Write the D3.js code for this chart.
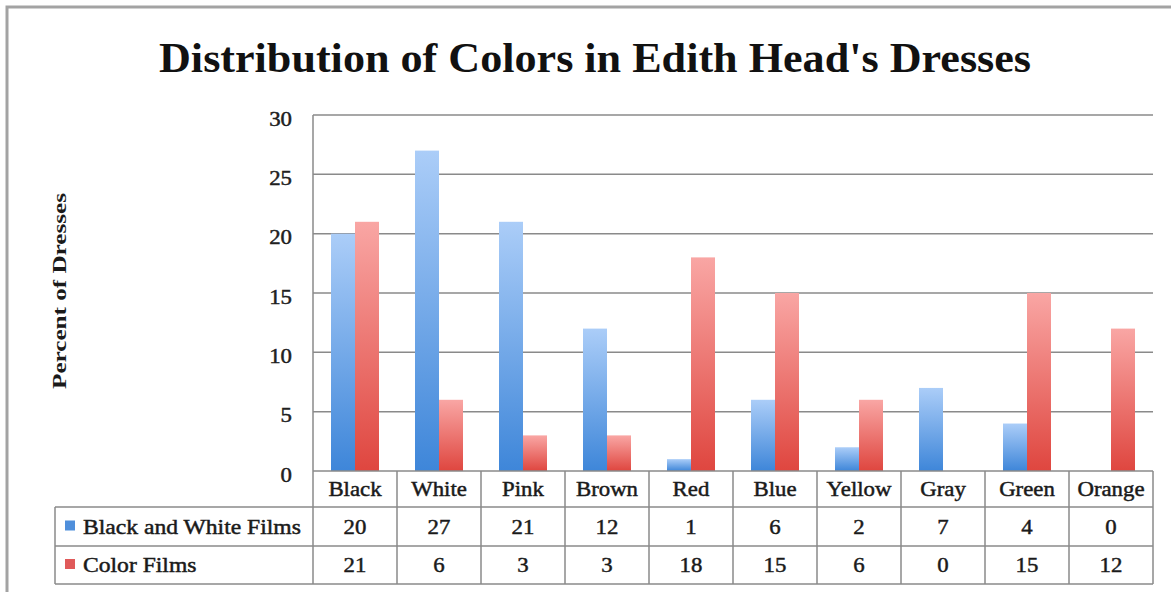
<!DOCTYPE html>
<html>
<head>
<meta charset="utf-8">
<script src="https://cdn.jsdelivr.net/npm/d3@7"></script>
<style>
  html, body { margin: 0; padding: 0; background: #fff; }
  svg { display: block; }
  text { font-family: "Liberation Serif", "DejaVu Serif", serif; fill: #1a1a1a; }
  .reg { stroke: #1a1a1a; stroke-width: 0.45px; }
</style>
</head>
<body>
<svg id="chart" width="1171" height="592"></svg>
<script>
// Percent of dresses by colour, split by film type
const categories = ["Black", "White", "Pink", "Brown", "Red", "Blue", "Yellow", "Gray", "Green", "Orange"];
const seriesNames = ["Black and White Films", "Color Films"];
const bwValues = [20, 27, 21, 12, 1, 6, 2, 7, 4, 0];
const colorValues = [21, 6, 3, 3, 18, 15, 6, 0, 15, 12];
const yTicks = [0, 5, 10, 15, 20, 25, 30];
const titleText = "Distribution of Colors in Edith Head's Dresses";
const yTitle = "Percent of Dresses";

const series = [
  { name: seriesNames[0], values: bwValues, grad: "gBlue", swatch: "#4f8fdb" },
  { name: seriesNames[1], values: colorValues, grad: "gRed", swatch: "#e05a5a" }
];

const svg = d3.select("#chart");
const defs = svg.append("defs");

function vGrad(id, top, bottom) {
  const g = defs.append("linearGradient").attr("id", id)
    .attr("x1", 0).attr("y1", 0).attr("x2", 0).attr("y2", 1);
  g.append("stop").attr("offset", "0%").attr("stop-color", top);
  g.append("stop").attr("offset", "100%").attr("stop-color", bottom);
}
vGrad("gBlue", "#abcdf8", "#3e86d9");
vGrad("gRed", "#f9a6a4", "#df463f");

// outer frame
svg.append("path")
  .attr("d", "M7,600 L7,7 L1180,7")
  .attr("fill", "none").attr("stroke", "#a3a3a3").attr("stroke-width", 3);

// layout
const plotLeft = 313, plotRight = 1153, plotTop = 115, plotBottom = 471;
const rowTops = [471, 507, 546, 584];
const legendLeft = 55;
const widen = 1.14;       // body text is set a little wider than the serif's natural width
const widenLegend = 1.18; // legend labels in the table run slightly wider still

const x = d3.scaleBand().domain(categories).range([plotLeft, plotRight]).padding(0);
const xs = d3.scaleBand().domain(seriesNames).range([0, x.bandwidth()]).paddingInner(0).paddingOuter(0.75);
const y = d3.scaleLinear().domain([0, 30]).range([plotBottom, plotTop]);

// title
svg.append("text")
  .attr("x", 595).attr("y", 72)
  .attr("text-anchor", "middle")
  .attr("font-size", 43).attr("font-weight", "bold")
  .attr("textLength", 872).attr("lengthAdjust", "spacingAndGlyphs")
  .style("fill", "#111")
  .text(titleText);

// gridlines
svg.append("g").selectAll("line")
  .data(yTicks.filter(t => t > 0))
  .join("line")
  .attr("x1", plotLeft).attr("x2", plotRight)
  .attr("y1", d => y(d)).attr("y2", d => y(d))
  .attr("stroke", "#8a8a8a").attr("stroke-width", 1.5);

// y tick labels
const yAxis = d3.axisLeft(y).tickValues(yTicks).tickSize(0).tickPadding(21);
const yg = svg.append("g").attr("transform", `translate(${plotLeft},0)`).call(yAxis);
yg.select(".domain").remove();
yg.selectAll("text")
  .attr("class", "reg wide")
  .attr("font-size", 20).attr("font-family", null)
  .attr("dy", "0.5em")
  .style("fill", "#222");

// y axis title
svg.append("text")
  .attr("transform", "translate(66,291) rotate(-90)")
  .attr("text-anchor", "middle")
  .attr("font-size", 19).attr("font-weight", "bold")
  .attr("textLength", 196).attr("lengthAdjust", "spacingAndGlyphs")
  .text(yTitle);

// bars
series.forEach(s => {
  svg.append("g").selectAll("rect")
    .data(categories.map((c, i) => ({ c, v: s.values[i] })).filter(d => d.v > 0))
    .join("rect")
    .attr("x", d => x(d.c) + xs(s.name))
    .attr("width", xs.bandwidth())
    .attr("y", d => y(d.v))
    .attr("height", d => y(0) - y(d.v))
    .attr("fill", `url(#${s.grad})`);
});

// data table lines
const tbl = svg.append("g").attr("stroke", "#8a8a8a").attr("stroke-width", 1.5).attr("fill", "none");
tbl.append("line").attr("x1", plotLeft).attr("x2", plotRight).attr("y1", rowTops[0]).attr("y2", rowTops[0]);
tbl.append("line").attr("x1", plotLeft).attr("x2", plotLeft).attr("y1", plotTop).attr("y2", rowTops[3]);
[1, 2, 3].forEach(r => {
  tbl.append("line").attr("x1", legendLeft).attr("x2", plotRight).attr("y1", rowTops[r]).attr("y2", rowTops[r]);
});
tbl.append("line").attr("x1", legendLeft).attr("x2", legendLeft).attr("y1", rowTops[1]).attr("y2", rowTops[3]);
tbl.selectAll("line.col")
  .data(categories)
  .join("line").attr("class", "col")
  .attr("x1", d => x(d) + x.bandwidth()).attr("x2", d => x(d) + x.bandwidth())
  .attr("y1", rowTops[0]).attr("y2", rowTops[3]);

// category labels
svg.append("g").selectAll("text")
  .data(categories)
  .join("text")
  .attr("class", "reg wide")
  .attr("x", d => x(d) + x.bandwidth() / 2)
  .attr("y", (rowTops[0] + rowTops[1]) / 2 + 7)
  .attr("text-anchor", "middle")
  .attr("font-size", 20)
  .text(d => d);

// value rows with legend keys
series.forEach((s, r) => {
  const cy = (rowTops[r + 1] + rowTops[r + 2]) / 2 + 7;
  svg.append("g").selectAll("text")
    .data(categories.map((c, i) => ({ c, v: s.values[i] })))
    .join("text")
    .attr("class", "reg wide")
    .attr("x", d => x(d.c) + x.bandwidth() / 2)
    .attr("y", cy)
    .attr("text-anchor", "middle")
    .attr("font-size", 20)
    .text(d => d.v);

  svg.append("rect")
    .attr("x", 65).attr("y", cy - 13)
    .attr("width", 10).attr("height", 10)
    .attr("fill", s.swatch);
  svg.append("text")
    .attr("class", "reg legend")
    .attr("x", 83).attr("y", cy)
    .attr("font-size", 20)
    .text(s.name);
});

// stretch body text horizontally to the wider set width
function stretch(sel, k) {
  sel.each(function () {
    const w = this.getComputedTextLength();
    d3.select(this).attr("textLength", w * k).attr("lengthAdjust", "spacingAndGlyphs");
  });
}
stretch(svg.selectAll("text.wide"), widen);
stretch(svg.selectAll("text.legend"), widenLegend);
</script>
</body>
</html>
